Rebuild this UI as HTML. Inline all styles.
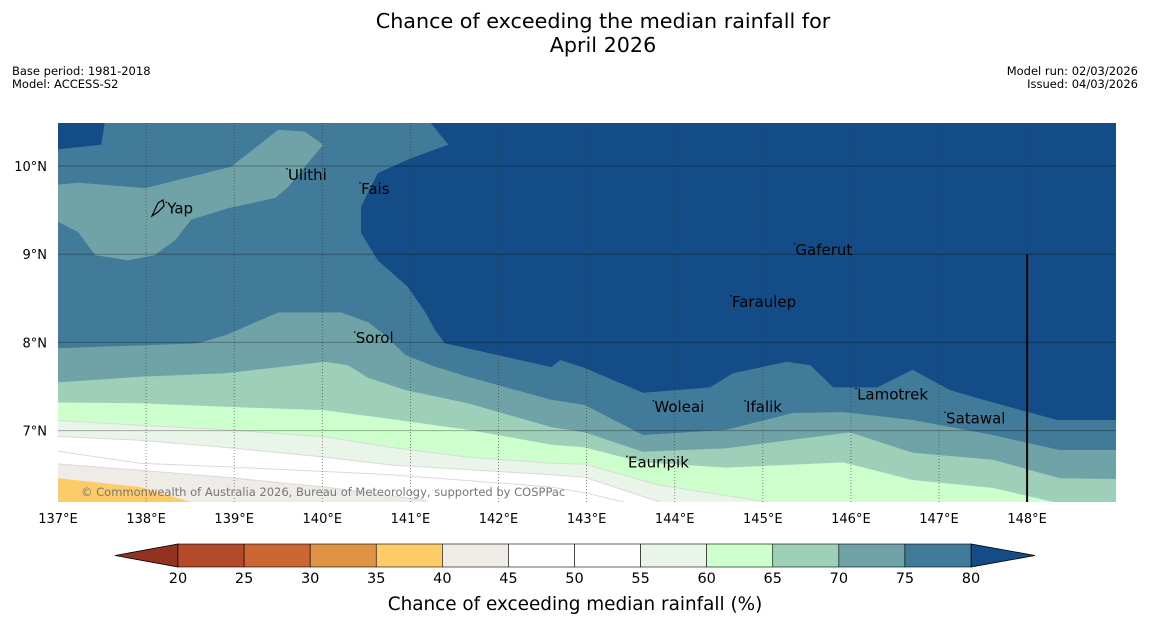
<!DOCTYPE html>
<html><head><meta charset="utf-8"><style>
html,body{margin:0;padding:0;background:#fff}
svg{display:block;font-family:"DejaVu Sans","Liberation Sans",sans-serif}
</style></head><body>
<svg id="chart" width="1150" height="644" viewBox="0 0 1150 644" xmlns="http://www.w3.org/2000/svg">
<rect width="1150" height="644" fill="#fff"/>
<text x="603" y="28" font-size="20.7" text-anchor="middle" fill="#000">Chance of exceeding the median rainfall for</text>
<text x="603" y="52" font-size="20.7" text-anchor="middle" fill="#000">April 2026</text>
<text x="12" y="75" font-size="11.5" fill="#000">Base period: 1981-2018</text>
<text x="12" y="88" font-size="11.5" fill="#000">Model: ACCESS-S2</text>
<text x="1138" y="75" font-size="11.5" text-anchor="end" fill="#000">Model run: 02/03/2026</text>
<text x="1138" y="88" font-size="11.5" text-anchor="end" fill="#000">Issued: 04/03/2026</text>
<defs><clipPath id="plotclip"><rect x="58" y="123" width="1058" height="379"/></clipPath></defs>
<g id="map" clip-path="url(#plotclip)"></g>
<g id="axes"></g>
<g id="cbar"></g>
<text x="575" y="610" font-size="18.4" text-anchor="middle" fill="#000">Chance of exceeding median rainfall (%)</text>
</svg>
<script>
const lonTicks=[137,138,139,140,141,142,143,144,145,146,147,148];
const latTicks=[7,8,9,10];
const levels=[20,25,30,35,40,45,50,55,60,65,70,75,80];
const levelColors=["#b34a2a","#cc6633","#e09245","#fecb69","#efece8","#ffffff","#ffffff","#eaf5ea","#ccffcc","#9ecfb9","#6fa3a8","#427a99"];
const underColor="#92321f", overColor="#134c86";
const dark80TopLeft=[[137,10.49],[137.53,10.49],[137.49,10.24],[137,10.19]];
const dark80Main=[[141.23,10.49],[141.43,10.24],[141.01,10.09],[140.63,9.92],[140.44,9.54],[140.44,9.24],[140.63,8.93],[140.97,8.63],[141.17,8.34],[141.28,8.14],[141.39,7.99],[142.6,7.72],[142.7,7.8],[142.98,7.71],[143.64,7.43],[144.4,7.49],[144.66,7.65],[145.27,7.78],[145.54,7.74],[145.8,7.49],[146.3,7.49],[146.7,7.69],[147.12,7.46],[147.61,7.32],[148.34,7.12],[149.1,7.12],[149.1,10.6]];
const yapBlob70=[[136.9,9.78],[137.23,9.81],[137.99,9.75],[138.96,9.99],[139.5,10.41],[139.8,10.39],[140.01,10.24],[139.61,9.76],[139.47,9.64],[138.93,9.52],[138.51,9.39],[138.33,9.16],[138.1,8.99],[137.79,8.93],[137.42,8.99],[137.23,9.25],[136.9,9.42]];
const c75=[[136.9,7.93],[138.59,7.99],[138.9,8.08],[139.5,8.34],[140.21,8.34],[140.52,8.23],[140.71,8.08],[140.94,7.86],[141.23,7.74],[141.65,7.61],[142.6,7.35],[142.98,7.29],[143.64,6.95],[144.59,7.01],[145.34,7.2],[145.91,7.21],[146.7,7.12],[147.61,6.95],[148.37,6.78],[149.1,6.78]];
const c70=[[136.9,7.54],[137.93,7.61],[138.9,7.65],[140.03,7.78],[140.29,7.74],[140.52,7.6],[140.94,7.46],[141.65,7.31],[142.6,7.04],[142.98,6.98],[143.64,6.76],[144.59,6.8],[145.99,6.98],[146.7,6.75],[147.61,6.67],[148.37,6.46],[149.1,6.45]];
const c65=[[136.9,7.32],[137.93,7.31],[138.9,7.27],[140.03,7.23],[140.71,7.14],[141.65,7.01],[142.6,6.84],[142.98,6.81],[143.64,6.64],[144.59,6.58],[145.91,6.64],[146.7,6.44],[147.61,6.35],[148.3,6.19],[148.6,6.0]];
const c60=[[136.9,7.12],[137.93,7.06],[138.9,7.01],[140.03,6.93],[140.78,6.81],[141.65,6.7],[142.6,6.63],[142.98,6.62],[143.83,6.38],[145.05,6.19],[145.3,6.0]];
const c55=[[136.9,6.94],[137.93,6.89],[138.9,6.81],[140.03,6.7],[140.78,6.61],[142.6,6.5],[142.98,6.47],[143.83,6.19],[144.0,6.0]];
const c50=[[136.9,6.78],[137.93,6.63],[138.9,6.59],[140.78,6.5],[142.6,6.36],[143.0,6.29],[143.42,6.19],[143.6,6.0]];
const c45=[[136.9,6.63],[137.93,6.55],[138.9,6.47],[140.03,6.36],[141.17,6.21],[141.3,6.0]];
const c40=[[136.9,6.47],[137.93,6.36],[138.51,6.19],[138.6,6.0]];
const places=["Yap","Ulithi","Fais","Gaferut","Faraulep","Sorol","Woleai","Ifalik","Lamotrek","Satawal","Eauripik"];
const placeLon=[138.24,139.61,140.44,145.37,144.65,140.38,143.77,144.81,146.07,147.08,143.47];
const placeLat=[9.52,9.9,9.74,9.05,8.46,8.05,7.27,7.27,7.41,7.14,6.64];

const NS="http://www.w3.org/2000/svg";
const X=lon=>58+(lon-137)*88.1;
const Y=lat=>166+(10-lat)*88.2;
const CX=v=>178+(v-20)*(793/60);
function mk(tag,attrs,parent){const e=document.createElementNS(NS,tag);for(const k in attrs)e.setAttribute(k,attrs[k]);parent.appendChild(e);return e;}
function pts(a){return a.map(p=>X(p[0]).toFixed(1)+","+Y(p[1]).toFixed(1)).join(" ");}
const map=document.getElementById("map"),axes=document.getElementById("axes"),cbar=document.getElementById("cbar");

let bg=mk("rect",{x:58,y:123,width:1058,height:379,fill:levelColors[11]},map);


[dark80TopLeft,dark80Main].forEach(a=>{
  let p=mk("polygon",{points:pts(a),fill:overColor},map);
  
  
});
let yb=mk("polygon",{points:pts(yapBlob70),fill:levelColors[10]},map);


const contours=[c75,c70,c65,c60,c55,c50,c45,c40];
const fillIdx=[10,9,8,7,6,5,4,3];
contours.forEach((c,i)=>{
  const closed=c.concat([[c[c.length-1][0],5.8],[c[0][0],5.8]]);
  let p=mk("polygon",{points:pts(closed),fill:levelColors[fillIdx[i]]},map);
  
  
  if(i>=3&&i<=6){
    let l=mk("polyline",{points:pts(c),fill:"none",stroke:"#dadada","stroke-width":1},map);
    
    
  }
});
lonTicks.slice(1).forEach(l=>{
  let g=mk("line",{x1:X(l),x2:X(l),y1:123,y2:502,stroke:"#333","stroke-width":0.8,"stroke-dasharray":"1,2","stroke-opacity":0.7},map);
  
  
});
latTicks.forEach(l=>{
  let g=mk("line",{x1:58,x2:1116,y1:Y(l),y2:Y(l),stroke:"#000","stroke-width":1,"stroke-opacity":0.3},map);
  
  
});
let vl=mk("line",{x1:X(148),x2:X(148),y1:Y(9),y2:502,stroke:"#000","stroke-width":2},map);


places.forEach((n,i)=>{
  let d=mk("circle",{cx:X(placeLon[i])-1,cy:Y(placeLat[i])-6,r:0.8,fill:"#000"},map);
  
  
  let t=mk("text",{x:X(placeLon[i]),y:Y(placeLat[i])+5,"font-size":15,fill:"#000"},map);
  t.textContent=n;
  
  
});
let yi=mk("path",{d:"M152,216 L158,203 L163,200 L164,206 L158,212 Z",fill:"none",stroke:"#000","stroke-width":1.2},map);


let cp=mk("text",{x:81,y:496,"font-size":11.5,fill:"#777"},map);
cp.textContent="© Commonwealth of Australia 2026, Bureau of Meteorology, supported by COSPPac";



lonTicks.forEach(l=>{
  let t=mk("text",{x:X(l),y:523,"font-size":13,"text-anchor":"middle",fill:"#000"},axes);
  t.textContent=l+"°E";
  
  
});
latTicks.forEach(l=>{
  let t=mk("text",{x:47,y:Y(l)+5,"font-size":13,"text-anchor":"end",fill:"#000"},axes);
  t.textContent=l+"°N";
  
  
});

let lt=mk("polygon",{points:"115,555.5 "+CX(20)+",544 "+CX(20)+",567",fill:underColor,stroke:"#000","stroke-width":0.8},cbar);


let rt=mk("polygon",{points:"1035,555.5 "+CX(80)+",544 "+CX(80)+",567",fill:overColor,stroke:"#000","stroke-width":0.8},cbar);


levelColors.forEach((c,i)=>{
  let r=mk("rect",{x:CX(levels[i]),y:544,width:CX(levels[i+1])-CX(levels[i]),height:23,fill:c,stroke:"#000","stroke-width":0.6},cbar);
  
  
});
levels.forEach(v=>{
  let t=mk("text",{x:CX(v),y:583,"font-size":14.5,"text-anchor":"middle",fill:"#000"},cbar);
  t.textContent=v;
  
  
});
</script>
</body></html>
